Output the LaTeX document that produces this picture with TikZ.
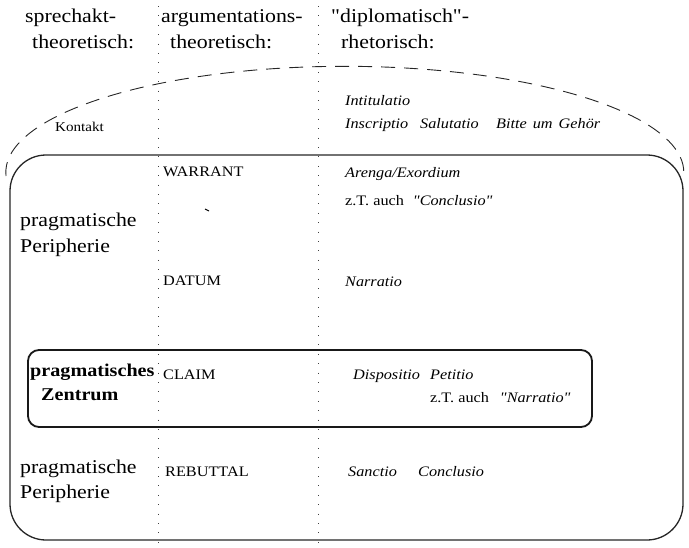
\documentclass[tikz,border=0pt]{standalone}
\usepackage{fontspec}
\newfontfamily\mf[FakeStretch=1.12]{Liberation Serif}
\begin{document}
\begin{tikzpicture}[x=1pt,y=-1pt,
  head/.style={anchor=base west,inner sep=0pt,font=\mf\fontsize{19.5}{22}\selectfont},
  side/.style={anchor=base west,inner sep=0pt,font=\mf\fontsize{19.5}{22}\selectfont},
  centre/.style={anchor=base west,inner sep=0pt,font=\mf\fontsize{18}{20}\selectfont\bfseries},
  arg/.style={anchor=base west,inner sep=0pt,font=\mf\fontsize{14.5}{16}\selectfont},
  rhet/.style={anchor=base west,inner sep=0pt,font=\mf\fontsize{14.5}{16}\selectfont\itshape},
  plain/.style={anchor=base west,inner sep=0pt,font=\mf\fontsize{14.5}{16}\selectfont},
  small/.style={anchor=base west,inner sep=0pt,font=\mf\fontsize{13.5}{15}\selectfont},
  sep/.style={draw=black!75,line width=0.9pt,dash pattern=on 0.9pt off 8.5pt},
  arcline/.style={draw=black!85,line width=0.9pt,dash pattern=on 14pt off 9pt},
  outerbox/.style={draw=black!85,line width=1.3pt,rounded corners=36pt},
  innerbox/.style={draw=black!90,line width=1.8pt,rounded corners=11pt}]
\useasboundingbox (0,0) rectangle (689,547);
% column separators
\coordinate (s1t) at (158,6); \coordinate (s1b) at (158,545);
\coordinate (s2t) at (318,6); \coordinate (s2b) at (318,545);
\draw[sep] (s1t) -- (s1b);
\draw[sep] (s2t) -- (s2b);
% dashed contact arc
\draw[arcline] (6,176) arc[start angle=178, end angle=362, x radius=339, y radius=106];
% boxes
\draw[outerbox] (10,155) rectangle (683,540);
\draw[innerbox] (28,350) rectangle (592,427);
% headers
\node[head] (h1a) at (25,22) {sprechakt-};
\node[head] (h1b) at (32,48) {theoretisch:};
\node[head] (h2a) at (161,22) {argumentations-};
\node[head] (h2b) at (170,48) {theoretisch:};
\node[head] (h3a) at (331,22) {"diplomatisch"-};
\node[head] (h3b) at (341,48) {rhetorisch:};
% contact row
\node[small] (kontakt) at (55,131) {Kontakt};
\node[rhet] (intit) at (345,105) {Intitulatio};
\node[rhet] (inscr) at (345,128) {Inscriptio};
\node[rhet] (salut) at (420,128) {Salutatio};
\node[rhet] (bitte) at (496,128) {Bitte\hspace{6pt}um\hspace{6pt}Gehör};
% upper periphery
\node[side] (pp1a) at (20,226) {pragmatische};
\node[side] (pp1b) at (20,252) {Peripherie};
\node[arg] (warrant) at (163,176) {WARRANT};
\node[rhet] (arenga) at (345,177) {Arenga/Exordium};
\node[plain] (ztc) at (345,205) {z.T. auch\hspace{9pt}\textit{"Conclusio"}};
\draw[line width=1pt] (205,209) -- (209,211);
\node[arg] (datum) at (163,285) {DATUM};
\node[rhet] (narr) at (345,286) {Narratio};
% centre
\node[centre] (pz1) at (30,376) {pragmatisches};
\node[centre] (pz2) at (41,400) {Zentrum};
\node[arg] (claim) at (163,379) {CLAIM};
\node[rhet] (disp) at (353,379) {Dispositio};
\node[rhet] (petit) at (430,379) {Petitio};
\node[plain] (ztn) at (430,402) {z.T. auch\hspace{11pt}\textit{"Narratio"}};
% lower periphery
\node[side] (pp2a) at (20,473) {pragmatische};
\node[side] (pp2b) at (20,498) {Peripherie};
\node[arg] (rebut) at (165,476) {REBUTTAL};
\node[rhet] (sanct) at (348,476) {Sanctio};
\node[rhet] (concl) at (418,476) {Conclusio};
\end{tikzpicture}
\end{document}
